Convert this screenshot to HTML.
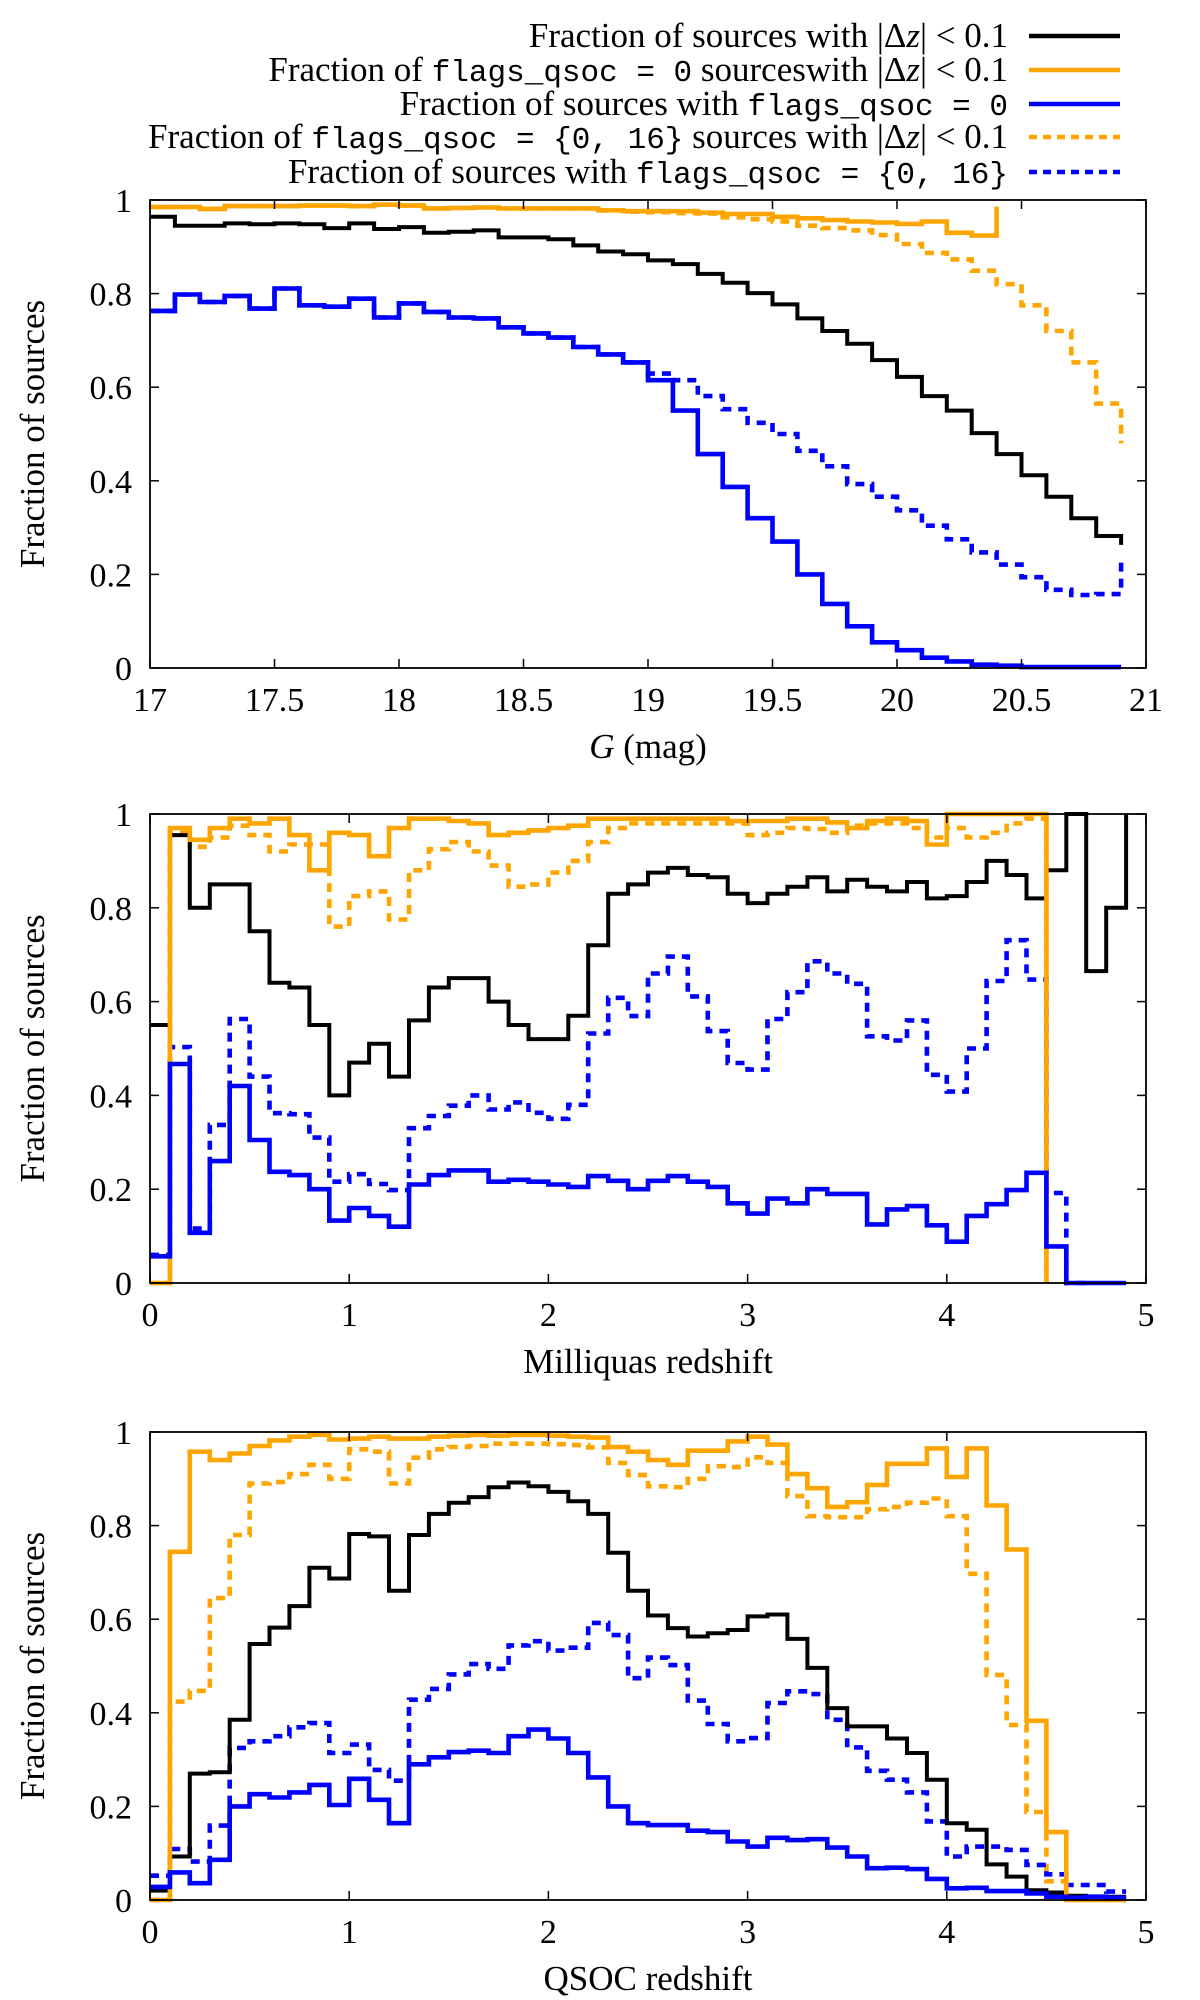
<!DOCTYPE html>
<html><head><meta charset="utf-8"><style>
html,body{margin:0;padding:0;background:#fff}
svg{display:block}
text{font-family:"Liberation Serif",serif;fill:#000}
.mono{font-family:"Liberation Mono",monospace;font-size:31px}
</style></head><body>
<svg id="fig" width="1200" height="2000" viewBox="0 0 1200 2000" xmlns="http://www.w3.org/2000/svg">
<g id="legend" font-size="35">
<g><text x="1008" y="47" text-anchor="end">Fraction of sources with |Δ<tspan font-style="italic">z</tspan>| &lt; 0.1</text><line x1="1029" y1="36" x2="1120" y2="36" stroke="#000" stroke-width="4.5"/></g>
<g><text x="1008" y="81" text-anchor="end">Fraction of <tspan class="mono">flags_qsoc = 0</tspan> sourceswith |Δ<tspan font-style="italic">z</tspan>| &lt; 0.1</text><line x1="1029" y1="70" x2="1120" y2="70" stroke="#ffa500" stroke-width="4.5"/></g>
<g><text x="1008" y="115" text-anchor="end">Fraction of sources with <tspan class="mono">flags_qsoc = 0</tspan></text><line x1="1029" y1="104" x2="1120" y2="104" stroke="#0000ff" stroke-width="4.5"/></g>
<g><text x="1008" y="148" text-anchor="end">Fraction of <tspan class="mono">flags_qsoc = {0, 16}</tspan> sources with |Δ<tspan font-style="italic">z</tspan>| &lt; 0.1</text><line x1="1029" y1="137" x2="1120" y2="137" stroke="#ffa500" stroke-width="4.5" stroke-dasharray="8 6"/></g>
<g><text x="1008" y="183" text-anchor="end">Fraction of sources with <tspan class="mono">flags_qsoc = {0, 16}</tspan></text><line x1="1029" y1="172" x2="1120" y2="172" stroke="#0000ff" stroke-width="4.5" stroke-dasharray="8 6"/></g>
</g>
</svg>
<script>
// ---- Panel 1 data (G mag, bins of 0.1 from 17) ----
const p1Black=[0.964,0.945,0.945,0.95,0.948,0.95,0.948,0.94,0.95,0.938,0.942,0.93,0.932,0.935,0.92,0.92,0.916,0.903,0.89,0.884,0.871,0.863,0.842,0.823,0.801,0.777,0.747,0.72,0.693,0.658,0.622,0.581,0.55,0.502,0.457,0.412,0.366,0.32,0.282];
const p1Orange=[0.985,0.985,0.981,0.987,0.987,0.987,0.988,0.988,0.987,0.99,0.988,0.982,0.983,0.984,0.982,0.982,0.982,0.982,0.978,0.976,0.976,0.976,0.973,0.97,0.97,0.964,0.961,0.957,0.954,0.952,0.949,0.954,0.93,0.924];
const p1OrangeD=[0.985,0.985,0.981,0.987,0.987,0.987,0.988,0.988,0.987,0.99,0.988,0.982,0.983,0.984,0.982,0.982,0.982,0.982,0.978,0.975,0.974,0.972,0.971,0.963,0.959,0.954,0.945,0.94,0.935,0.925,0.906,0.887,0.873,0.849,0.82,0.775,0.72,0.653,0.565];
const p1Blue=[0.763,0.798,0.782,0.795,0.768,0.811,0.775,0.772,0.789,0.749,0.779,0.761,0.749,0.747,0.728,0.715,0.706,0.686,0.67,0.653,0.615,0.55,0.457,0.387,0.32,0.27,0.2,0.137,0.089,0.055,0.038,0.022,0.014,0.007,0.005,0.002,0.002,0.002,0.002];
const p1BlueD=[0.763,0.798,0.782,0.795,0.768,0.811,0.775,0.772,0.789,0.749,0.779,0.761,0.749,0.747,0.728,0.715,0.706,0.686,0.67,0.653,0.629,0.615,0.581,0.553,0.524,0.5,0.464,0.431,0.393,0.366,0.337,0.304,0.275,0.247,0.221,0.194,0.167,0.156,0.158];
const p1XTicks=["17","17.5","18","18.5","19","19.5","20","20.5","21"];
// ---- Panel 2 data (Milliquas redshift, bins of 0.1 from 0) ----
const p2Black=[0.55,0.955,0.80,0.85,0.85,0.75,0.64,0.63,0.55,0.40,0.47,0.51,0.44,0.56,0.63,0.65,0.65,0.60,0.55,0.52,0.52,0.57,0.72,0.83,0.85,0.875,0.885,0.87,0.865,0.83,0.81,0.83,0.845,0.865,0.835,0.86,0.845,0.835,0.855,0.82,0.825,0.855,0.90,0.87,0.82,0.88,1.0,0.665,0.80];
const p2Orange=[0,0.97,0.945,0.97,0.99,0.98,0.99,0.955,0.88,0.96,0.955,0.91,0.97,0.99,0.99,0.985,0.98,0.955,0.96,0.965,0.97,0.975,0.99,0.99,0.99,0.99,0.99,0.99,0.99,0.985,0.985,0.985,0.99,0.99,0.982,0.97,0.985,0.99,0.985,0.935,1.0,1.0,1.0,1.0,1.0];
const p2OrangeD=[0,0.96,0.93,0.95,0.975,0.955,0.92,0.935,0.935,0.76,0.825,0.835,0.775,0.88,0.925,0.94,0.92,0.89,0.845,0.85,0.875,0.90,0.94,0.97,0.98,0.98,0.98,0.98,0.98,0.98,0.955,0.96,0.97,0.968,0.96,0.975,0.98,0.98,0.97,0.95,0.97,0.95,0.96,0.98,0.99];
const p2Blue=[0.057,0.467,0.107,0.26,0.42,0.305,0.237,0.23,0.20,0.133,0.16,0.143,0.12,0.21,0.23,0.24,0.24,0.216,0.22,0.216,0.21,0.205,0.228,0.218,0.20,0.218,0.228,0.216,0.205,0.17,0.148,0.18,0.17,0.20,0.19,0.19,0.125,0.157,0.164,0.123,0.088,0.143,0.168,0.198,0.235,0.078,0,0,0];
const p2BlueD=[0.06,0.503,0.116,0.337,0.563,0.44,0.362,0.36,0.31,0.216,0.232,0.211,0.198,0.33,0.356,0.378,0.40,0.37,0.385,0.363,0.35,0.38,0.532,0.608,0.569,0.66,0.696,0.611,0.537,0.469,0.455,0.563,0.62,0.686,0.66,0.638,0.526,0.517,0.56,0.444,0.408,0.50,0.644,0.731,0.647,0.192,0];
// ---- Panel 3 data (QSOC redshift, bins of 0.1 from 0) ----
const p3Black=[0.02,0.093,0.27,0.273,0.385,0.547,0.582,0.628,0.71,0.687,0.782,0.777,0.661,0.78,0.825,0.849,0.861,0.882,0.892,0.884,0.872,0.852,0.825,0.742,0.661,0.608,0.581,0.563,0.57,0.577,0.606,0.61,0.558,0.496,0.41,0.371,0.371,0.345,0.314,0.257,0.164,0.15,0.076,0.05,0.021,0.016,0.009,0.007,0.007];
const p3Orange=[0,0.744,0.958,0.94,0.954,0.97,0.982,0.99,0.994,0.984,0.986,0.99,0.986,0.986,0.99,0.992,0.994,0.992,0.994,0.994,0.992,0.99,0.988,0.968,0.958,0.94,0.93,0.96,0.96,0.98,0.99,0.973,0.91,0.88,0.84,0.85,0.887,0.932,0.932,0.965,0.904,0.965,0.843,0.749,0.383,0.145,0,0,0];
const p3OrangeD=[0,0.424,0.447,0.645,0.78,0.89,0.893,0.91,0.93,0.90,0.963,0.958,0.89,0.945,0.963,0.968,0.97,0.975,0.975,0.975,0.974,0.972,0.967,0.934,0.908,0.884,0.882,0.90,0.927,0.925,0.946,0.934,0.863,0.82,0.818,0.818,0.835,0.84,0.849,0.858,0.82,0.697,0.481,0.374,0.188,0.04,0,0,0];
const p3Blue=[0.028,0.059,0.036,0.086,0.2,0.226,0.219,0.23,0.246,0.203,0.259,0.214,0.164,0.29,0.305,0.316,0.319,0.314,0.35,0.364,0.345,0.314,0.262,0.2,0.164,0.16,0.16,0.148,0.145,0.125,0.114,0.133,0.128,0.13,0.112,0.093,0.068,0.069,0.066,0.045,0.025,0.026,0.019,0.019,0.014,0.007,0.005,0.007,0.005];
const p3BlueD=[0.052,0.109,0.082,0.159,0.325,0.339,0.35,0.369,0.378,0.314,0.332,0.278,0.255,0.428,0.451,0.482,0.504,0.494,0.544,0.553,0.533,0.539,0.592,0.566,0.474,0.518,0.502,0.426,0.376,0.339,0.346,0.421,0.446,0.44,0.385,0.326,0.276,0.257,0.23,0.168,0.093,0.114,0.114,0.107,0.075,0.055,0.032,0.032,0.018];
const zXTicks=["0","1","2","3","4","5"];
const yTicks=["0","0.2","0.4","0.6","0.8","1"];

const NS="http://www.w3.org/2000/svg";
const fig=document.getElementById('fig');
function mk(tag,attrs,parent){const e=document.createElementNS(NS,tag);for(const k in attrs)e.setAttribute(k,attrs[k]);(parent||fig).appendChild(e);return e;}

function panel(cfg){
  const L=150,R=1146,T=cfg.top,B=cfg.top+cfg.h;
  const xs=v=>L+(v-cfg.xmin)/(cfg.xmax-cfg.xmin)*(R-L);
  const ys=v=>B-v*(B-T);
  const g=mk('g',{});
  
  
  cfg.series.forEach(s=>{
    let d='M'+xs(cfg.xmin).toFixed(1)+','+ys(s.v[0]).toFixed(1);
    s.v.forEach((v,i)=>{
      if(i>0)d+='V'+ys(v).toFixed(1);
      d+='H'+xs(cfg.xmin+(i+1)*cfg.bin).toFixed(1);
    });
    if(s.end!==undefined)d+='V'+ys(s.end).toFixed(1);
    const p=mk('path',{d:d,fill:'none',stroke:s.c,'stroke-width':s.w||4.6,'stroke-linejoin':'miter','stroke-linecap':'butt'},g);
    if(s.dash)p.setAttribute('stroke-dasharray','9 7');
    
    
  });
  const fr=mk('rect',{x:L,y:T,width:R-L,height:B-T,fill:'none',stroke:'#000','stroke-width':1.8},g);
  
  
  yTicks.forEach((t,i)=>{
    const v=i*0.2,y=ys(v);
    mk('line',{x1:L,y1:y,x2:L+9,y2:y,stroke:'#000','stroke-width':1.5},g);
    mk('line',{x1:R,y1:y,x2:R-9,y2:y,stroke:'#000','stroke-width':1.5},g);
    const tx=mk('text',{x:132,y:y+12,'text-anchor':'end','font-size':34},g);
    tx.textContent=t;
    
    
  });
  cfg.xt.forEach((t,i)=>{
    const x=xs(cfg.xmin+i*cfg.xstep);
    mk('line',{x1:x,y1:B,x2:x,y2:B-9,stroke:'#000','stroke-width':1.5},g);
    mk('line',{x1:x,y1:T,x2:x,y2:T+9,stroke:'#000','stroke-width':1.5},g);
    const tx=mk('text',{x:x,y:B+43,'text-anchor':'middle','font-size':34},g);
    tx.textContent=t;
    
    
  });
  const xt=mk('text',{x:648,y:B+90,'text-anchor':'middle','font-size':35},g);
  xt.innerHTML=cfg.xtitle;
  
  
  const yt=mk('text',{x:0,y:0,'text-anchor':'middle','font-size':35,transform:'translate(44,'+((T+B)/2)+') rotate(-90)'},g);
  yt.textContent='Fraction of sources';
  
  
}
panel({name:'panel-g-mag',top:200,h:468,xmin:17,xmax:21,bin:0.1,xstep:0.5,xt:p1XTicks,
  xtitle:'<tspan font-style="italic">G</tspan> (mag)',
  series:[{v:p1OrangeD,c:'#ffa500',dash:1,end:0.48,n:'orange-dashed-line'},{v:p1BlueD,c:'#0000ff',dash:1,end:0.24,n:'blue-dashed-line'},
  {v:p1Black,c:'#000',end:0.263,w:4,n:'black-line'},{v:p1Orange,c:'#ffa500',end:0.986,n:'orange-line'},{v:p1Blue,c:'#0000ff',n:'blue-line'}]});
panel({name:'panel-milliquas',top:814,h:469,xmin:0,xmax:5,bin:0.1,xstep:1,xt:zXTicks,
  xtitle:'Milliquas redshift',
  series:[{v:p2OrangeD,c:'#ffa500',dash:1,end:0,n:'orange-dashed-line'},{v:p2BlueD,c:'#0000ff',dash:1,n:'blue-dashed-line'},
  {v:p2Black,c:'#000',end:1.0,w:4,n:'black-line'},{v:p2Orange,c:'#ffa500',end:0,n:'orange-line'},{v:p2Blue,c:'#0000ff',n:'blue-line'}]});
panel({name:'panel-qsoc',top:1432,h:468,xmin:0,xmax:5,bin:0.1,xstep:1,xt:zXTicks,
  xtitle:'QSOC redshift',
  series:[{v:p3OrangeD,c:'#ffa500',dash:1,n:'orange-dashed-line'},{v:p3BlueD,c:'#0000ff',dash:1,n:'blue-dashed-line'},
  {v:p3Black,c:'#000',w:4,n:'black-line'},{v:p3Orange,c:'#ffa500',n:'orange-line'},{v:p3Blue,c:'#0000ff',n:'blue-line'}]});
</script>
</body></html>
